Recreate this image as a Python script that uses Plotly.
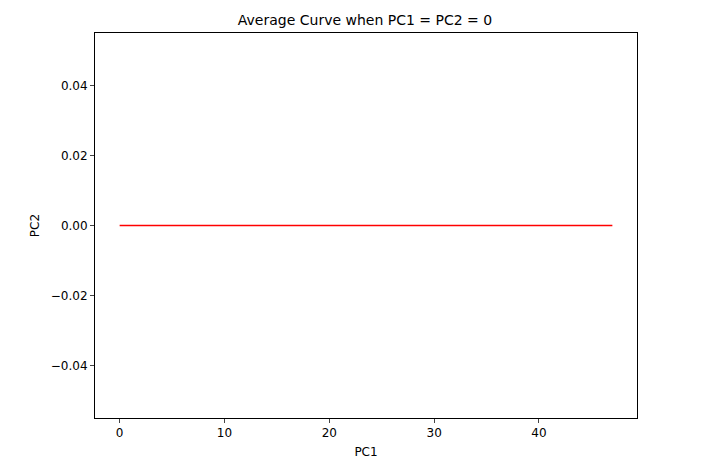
import plotly.graph_objects as go

x_vals = list(range(48))
y_vals = [0.0] * 48
x_ticks = [0, 10, 20, 30, 40]
y_ticks = [-0.04, -0.02, 0.0, 0.02, 0.04]
y_labels = ["\u22120.04", "\u22120.02", "0.00", "0.02", "0.04"]

fig = go.Figure(go.Scatter(x=x_vals, y=y_vals, mode="lines",
                           line=dict(color="red", width=1.5)))
fig.update_layout(
    width=714, height=459, template="simple_white",
    margin=dict(l=87, r=85, t=25, b=49, pad=0, autoexpand=False),
    font=dict(family="DejaVu Sans", size=12, color="black"),
    title=dict(text="Average Curve when PC1 = PC2 = 0", x=0.5, xanchor="center",
               y=1 - 12/459, yanchor="middle", font=dict(size=14)),
    showlegend=False,
)
fig.update_xaxes(range=[-2.35, 49.35], tickvals=x_ticks, ticks="outside", ticklen=4,
                 mirror=True, showline=True, linecolor="black", linewidth=1,
                 automargin=False,
                 title=dict(text="PC1", standoff=8, font=dict(size=12)))
fig.update_yaxes(range=[-0.055, 0.055], tickvals=y_ticks, ticktext=y_labels,
                 ticks="outside", ticklen=4, mirror=True, showline=True,
                 linecolor="black", linewidth=1, zeroline=False, automargin=False,
                 title=dict(text="PC2", standoff=8, font=dict(size=12)))
fig.write_html("out.html")
